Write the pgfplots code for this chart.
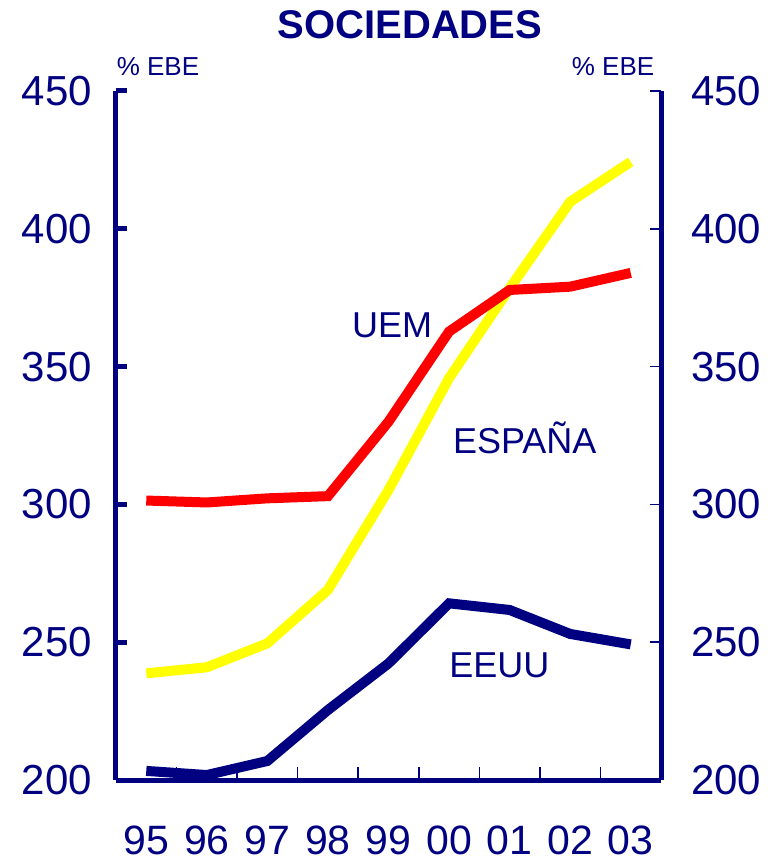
\documentclass[border=0pt]{standalone}
\usepackage{fontspec}
\setmainfont{Liberation Sans}
\usepackage{pgfplots}
\pgfplotsset{compat=1.18}
\definecolor{navyb}{RGB}{0,0,128}
\definecolor{yel}{RGB}{255,255,0}
\definecolor{rd}{RGB}{255,0,0}
\begin{document}
\begin{tikzpicture}
\useasboundingbox (-116pt,-85pt) rectangle (663pt,780pt);
\pgfplotsset{
  common/.style={
    at={(0,0)}, anchor=south west,
    width=545pt, height=689pt, scale only axis,
    xmin=-0.5, xmax=8.5, ymin=200, ymax=450,
    clip=false,
    /pgf/number format/assume math mode=true,
    ytick={200,250,...,450},
    tick align=inside,
    major tick length=11pt,
    axis line style={navyb, line width=5pt, -},
    yticklabel style={font=\fontsize{42}{42}\selectfont, text=navyb, inner sep=0pt},
  }
}
\begin{axis}[common,
  axis x line*=bottom, axis y line*=left,
  xtick={0,1,2,3,4,5,6,7,8},
  xticklabels={95,96,97,98,99,00,01,02,03},
  major x tick style={draw=none},
  minor xtick={0.5,1.5,2.5,3.5,4.5,5.5,6.5,7.5},
  minor x tick style={navyb, line width=1.5pt},
  minor tick length=13pt,
  y tick style={navyb, line width=5pt},
  xticklabel style={font=\fontsize{41}{41}\selectfont, text=navyb, inner sep=0pt, anchor=north, yshift=-46pt},
  yticklabel style={anchor=east, xshift=-24pt},
]
\addplot[yel, line width=10pt] coordinates {
 (0,238.7) (1,240.9) (2,249.6) (3,269.0) (4,305.2) (5,345.8) (6,378.4) (7,409.8) (8,424.3)};
\addplot[rd, line width=10pt] coordinates {
 (0,301.4) (1,300.7) (2,302.2) (3,303.0) (4,330.0) (5,362.7) (6,377.8) (7,379.0) (8,384.0)};
\addplot[navyb, line width=10pt] coordinates {
 (0,203.3) (1,201.8) (2,206.9) (3,225.4) (4,242.3) (5,264.1) (6,261.7) (7,253.0) (8,249.2)};
\node[text=navyb, font=\fontsize{36}{36}\selectfont] at (axis cs:4.06,365) {UEM};
\node[text=navyb, font=\fontsize{36}{36}\selectfont] at (axis cs:6.25,324) {ESPAÑA};
\node[text=navyb, font=\fontsize{36}{36}\selectfont] at (axis cs:5.83,241.7) {EEUU};
\node[text=navyb, font=\fontsize{26}{26}\selectfont] at (rel axis cs:0.077,1.035) {\% EBE};
\node[text=navyb, font=\fontsize{26}{26}\selectfont] at (rel axis cs:0.912,1.035) {\% EBE};
\end{axis}
\begin{axis}[common,
  axis x line=none, axis y line*=right,
  y tick style={navyb, line width=1.5pt},
  yticklabel style={anchor=west, xshift=30pt},
]
\end{axis}
\node[text=navyb, font=\bfseries\fontsize{40}{40}\selectfont] at (294pt,755pt) {SOCIEDADES};
\end{tikzpicture}
\end{document}
